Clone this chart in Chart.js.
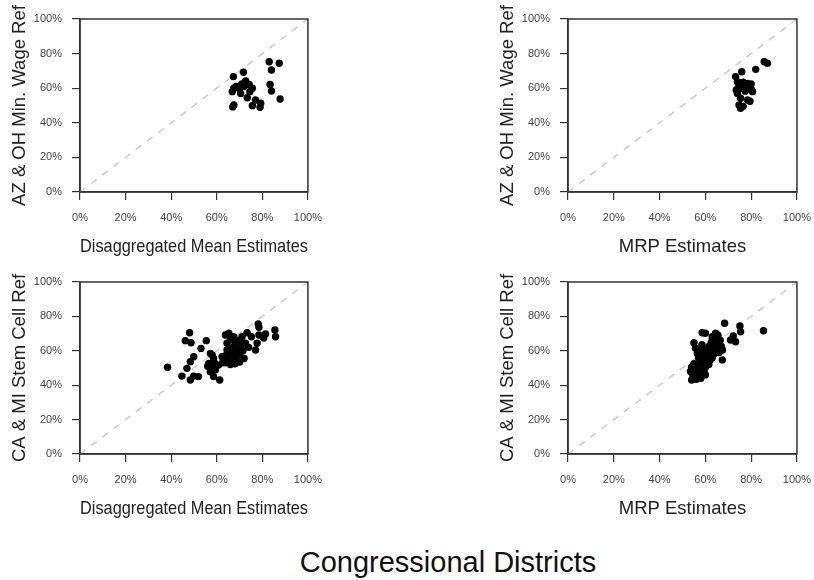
<!DOCTYPE html>
<html>
<head>
<meta charset="utf-8">
<script src="https://cdn.jsdelivr.net/npm/chart.js@4.4.1/dist/chart.umd.min.js"></script>
<style>
  body { margin: 0; background: #fff; width: 814px; height: 580px; position: relative; overflow: hidden;
         font-family: 'Liberation Sans', Arial, sans-serif; }
  canvas { position: absolute; }
  #title { position: absolute; left: 248px; width: 400px; top: 546px; line-height: 32px;
           text-align: center; font-size: 29px; color: #111; }
</style>
</head>
<body>
<canvas id="wageDisagg" width="333" height="266" style="left:0;top:0"></canvas>
<canvas id="wageMrp" width="334" height="266" style="left:488px;top:0"></canvas>
<canvas id="stemDisagg" width="333" height="265" style="left:0;top:263px"></canvas>
<canvas id="stemMrp" width="334" height="265" style="left:488px;top:263px"></canvas>
<div id="title">Congressional Districts</div>

<script>
    // tick values / labels shared by every panel
    const tickValues = [0, 20, 40, 60, 80, 100];
    const tickLabels = ['0%', '20%', '40%', '60%', '80%', '100%'];

    // 45 degree reference line
    const diagX = [0, 100];
    const diagY = [0, 100];

    // AZ & OH minimum wage referendum
    const wageDisaggX = [67.3, 71.7, 83, 87.4, 84, 83.4, 84, 87.8, 67.5, 66.8, 69.7, 72.7, 74.2, 75.6, 70.5, 68.5, 73.4, 75.6, 77, 79.3, 79, 67.5, 67, 72, 74.5, 71];
    const wageDisaggY = [66.7, 69.2, 75.3, 74.4, 70.5, 62.2, 58.4, 53.8, 60, 58, 60, 64.2, 62.2, 60, 57, 61, 54.5, 49.9, 53.2, 51.3, 49, 50.3, 49.2, 61, 58, 62.5];

    const wageMrpX = [85.7, 87.1, 82, 75.9, 73.2, 74, 74.6, 78.4, 79.8, 80.6, 77.4, 74, 75.4, 78.4, 79.5, 74.7, 75.4, 76.5, 77, 76, 79, 80, 76.5, 78, 73.5, 80.2];
    const wageMrpY = [75.3, 74.4, 70.9, 69.5, 66.7, 63.8, 61, 62.8, 60, 58, 58.3, 57, 54.2, 53.2, 52.5, 50.3, 48.4, 49.5, 61.5, 60, 61, 62.5, 63.5, 59.5, 59, 59];

    // CA & MI stem cell referendum
    const stemDisaggX = [38.4, 48.1, 46.2, 48.7, 55.4, 53.1, 49.9, 48.4, 46.9, 44.7, 48.4, 49.9, 52,
        57.2, 58.6, 56.5, 57.9, 59.4, 57.2, 58.6, 61.3, 60.8, 62.3, 56, 59, 58,
        63.8, 65.3, 66.7, 64.5, 63, 64, 65, 66, 67, 63.5, 65.5, 67.5, 68.5, 66, 67, 68, 69, 70, 69.5, 66,
        70.5, 71.5, 72, 68, 64.5, 62.5, 70, 71, 72.6, 71.1, 67.5,
        73.3, 75.2, 78.2, 78.5, 81.4, 78.5, 77.7, 77, 80.6, 85.5, 85.8, 74];
    const stemDisaggY = [50.4, 70.5, 65.9, 64.7, 65.9, 61.4, 56.6, 53.7, 49.8, 45.3, 43, 45.3, 45,
        58.5, 55.6, 52.7, 49.8, 48.8, 47.8, 45, 43, 51.7, 56.6, 51, 53, 57.5,
        69.2, 70.2, 68.2, 64.4, 55, 53, 54, 52, 55, 57, 57.5, 58.5, 56, 60, 62, 64, 60, 58, 66, 66.5,
        62, 60, 55.5, 52.5, 60.5, 53, 53.5, 64.5, 64.4, 68.2, 68,
        70.5, 68.2, 75.6, 73.7, 69.8, 69.2, 64.4, 60.5, 67.4, 72.1, 68.2, 62];

    const stemMrpX = [85.4, 68.4, 75.1, 75.4, 72.2, 71, 73.2, 58.6, 60, 55, 55.7, 67.4, 63, 64.5, 65.5,
        54, 55, 56, 54.5, 53.5, 54, 55.5, 56.5, 57, 58, 57.5, 56, 55, 58.5, 57.5, 59.5, 60,
        58, 59, 60, 59.5, 60.5, 61, 61.5, 62, 62.5, 61, 60, 58.5, 57, 63, 63.5, 62,
        64, 63, 64.5, 65, 65.5, 66, 64, 66.5, 67, 65.5, 62.5, 64, 66, 67.5, 63, 61.5, 60, 58.5, 59, 56.5, 57.5];
    const stemMrpY = [71.7, 76, 74.4, 71.1, 68.6, 66.3, 65.3, 70.5, 70.2, 64.7, 61.5, 54.7, 68.2, 70.2, 67,
        43, 44.5, 43.5, 46, 48, 50.5, 49, 47, 45, 44, 48.5, 51, 52.5, 50, 52, 47.5, 46,
        54, 52, 50.5, 55.5, 53.5, 56.5, 52, 54.5, 58, 59.5, 57.5, 57, 56, 56, 60, 61,
        62, 63.5, 65, 63, 60.5, 64.5, 67, 66, 62.5, 69, 64.5, 58.5, 59, 60.5, 66.5, 62.5, 61, 63.5, 60, 58.5, 60.5];

    const FONT = "'Liberation Sans', Arial, sans-serif";

    // box round the plot region (top and right sides)
    const boxPlugin = {
        id: 'box',
        afterDatasetsDraw(chart) {
            const a = chart.chartArea;
            const ctx = chart.ctx;
            ctx.save();
            ctx.strokeStyle = '#333';
            ctx.lineWidth = 1.5;
            ctx.strokeRect(a.left, a.top, a.right - a.left, a.bottom - a.top);
            ctx.restore();
        }
    };

    function axis(title, isX) {
        return {
            type: 'linear',
            min: 0,
            max: 100,
            ticks: {
                stepSize: 20,
                color: '#444',
                font: { family: FONT, size: 11 },
                padding: isX ? 11 : 10,
                maxRotation: 0,
                callback: v => tickLabels[tickValues.indexOf(v)]
            },
            grid: { drawOnChartArea: false, tickLength: 8, color: '#333', lineWidth: 1.2 },
            border: { color: '#333', width: 1.5 },
            title: {
                display: true,
                text: title,
                color: '#222',
                font: { family: FONT, size: 18.5 },
                padding: isX ? { top: 0, bottom: 8 } : { top: 9, bottom: 0 }
            },
            afterFit: s => { if (isX) s.height = 74; else s.width = 80; }
        };
    }

    function makePanel(id, xs, ys, xTitle, yTitle) {
        return new Chart(document.getElementById(id), {
            type: 'scatter',
            data: {
                datasets: [{
                    data: xs.map((v, i) => ({ x: v, y: ys[i] })),
                    backgroundColor: '#000',
                    borderColor: '#000',
                    pointRadius: 3.7,
                    pointBorderWidth: 0
                }, {
                    data: diagX.map((v, i) => ({ x: v, y: diagY[i] })),
                    showLine: true,
                    borderColor: '#cccccc',
                    borderWidth: 1.5,
                    borderDash: [7, 7],
                    pointRadius: 0
                }]
            },
            options: {
                responsive: false,
                animation: false,
                layout: { padding: { top: 19, right: 18, left: 0, bottom: 0 } },
                plugins: { legend: { display: false }, tooltip: { enabled: false } },
                scales: { x: axis(xTitle, true), y: axis(yTitle, false) }
            },
            plugins: [boxPlugin]
        });
    }

    makePanel('wageDisagg', wageDisaggX, wageDisaggY, 'Disaggregated Mean Estimates', 'AZ & OH Min. Wage Ref');
    makePanel('wageMrp', wageMrpX, wageMrpY, 'MRP Estimates', 'AZ & OH Min. Wage Ref');
    makePanel('stemDisagg', stemDisaggX, stemDisaggY, 'Disaggregated Mean Estimates', 'CA & MI Stem Cell Ref');
    makePanel('stemMrp', stemMrpX, stemMrpY, 'MRP Estimates', 'CA & MI Stem Cell Ref');
</script>
</body>
</html>
